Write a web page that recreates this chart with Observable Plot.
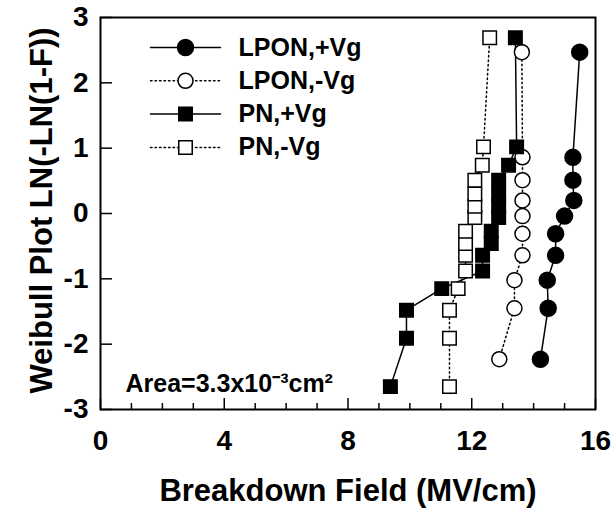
<!DOCTYPE html>
<html><head><meta charset="utf-8">
<script src="https://cdn.jsdelivr.net/npm/d3@7"></script>
<script src="https://cdn.jsdelivr.net/npm/@observablehq/plot@0.6"></script>
<style>body{margin:0;background:#fff} #chart{width:614px;height:513px}</style>
</head><body><div id="chart"></div>
<script>
// ---- data ----
const seriesNames = ["LPON,+Vg", "LPON,-Vg", "PN,+Vg", "PN,-Vg"];
const lponY    = [-2.23, -1.45, -1.02, -0.64, -0.31, -0.04, 0.20, 0.51, 0.86, 2.47];
const lponPosX = [14.22, 14.47, 14.44, 14.71, 14.71, 15.00, 15.30, 15.27, 15.27, 15.49];
const lponNegX = [12.89, 13.38, 13.38, 13.64, 13.64, 13.64, 13.64, 13.64, 13.64, 13.62];
const pnY      = [-2.65, -1.91, -1.48, -1.15, -0.88, -0.64, -0.46, -0.27, -0.06, 0.11, 0.30, 0.51, 0.74, 1.02, 2.69];
const pnPosX   = [9.37, 9.89, 9.89, 11.03, 12.35, 12.35, 12.63, 12.63, 12.87, 12.87, 12.87, 12.87, 13.19, 13.45, 13.41];
const pnNegX   = [11.28, 11.28, 11.28, 11.56, 11.80, 11.80, 11.80, 11.80, 12.10, 12.10, 12.10, 12.10, 12.34, 12.38, 12.58];
const xTicks = [0, 4, 8, 12, 16];
const xMinorTicks = [1, 2, 3, 5, 6, 7, 9, 10, 11, 13, 14, 15];
const yTicks = [-3, -2, -1, 0, 1, 2, 3];
const xLabel = "Breakdown Field (MV/cm)";
const yLabel = "Weibull Plot LN(-LN(1-F))";
const areaNote = "Area=3.3x10⁻³cm²";

// ---- layout / styles ----
const W = 614, H = 513, mL = 100, mR = 19, mT = 17, mB = 104;
const plotW = W - mL - mR, plotH = H - mT - mB;
const styles = [
  {symbol: "circle", fill: "black", dash: null, r: 8},
  {symbol: "circle", fill: "white", dash: "1.5,3", r: 7.5},
  {symbol: "square", fill: "black", dash: null, r: 7.6},
  {symbol: "square", fill: "white", dash: "1.5,3", r: 7.6}
];
const series = [
  {name: seriesNames[0], xs: lponPosX, ys: lponY},
  {name: seriesNames[1], xs: lponNegX, ys: lponY},
  {name: seriesNames[2], xs: pnPosX, ys: pnY},
  {name: seriesNames[3], xs: pnNegX, ys: pnY}
];

const lineShape = {draw(context, l) { context.moveTo(0, 0); context.lineTo(0, -l); }};
const fmt = d => String(d);

const marks = [
  Plot.tickX(xTicks, {x: d => d, insetTop: plotH - 11, strokeWidth: 1.5}),
  Plot.tickX(xMinorTicks, {x: d => d, insetTop: plotH - 6, strokeWidth: 1.5}),
  Plot.tickY(yTicks, {y: d => d, insetRight: plotW - 12, strokeWidth: 1.5}),
  Plot.axisX(xTicks, {tickSize: 0, tickPadding: 21, fontSize: 28, label: null, tickFormat: fmt}),
  Plot.axisY(yTicks, {tickSize: 0, tickPadding: 12, fontSize: 28, label: null, tickFormat: fmt}),
  Plot.text([xLabel], {text: d => d, frameAnchor: "bottom", dy: 82, fontSize: 31, textAnchor: "middle", lineAnchor: "middle"}),
  Plot.text([yLabel], {text: d => d, frameAnchor: "left", dx: -58, dy: -3, rotate: -90, fontSize: 31, textAnchor: "middle", lineAnchor: "middle"}),
  Plot.text([areaNote], {text: d => d, frameAnchor: "bottom-left", dx: 25, dy: -26, textAnchor: "start", lineAnchor: "middle", fontSize: 25})
];

series.forEach((s, k) => {
  const st = styles[k];
  const pts = s.xs.map((x, i) => ({x, y: s.ys[i]}));
  marks.push(Plot.line(pts, {x: "x", y: "y", stroke: "black", strokeWidth: 1.5, strokeDasharray: st.dash}));
});
series.forEach((s, k) => {
  const st = styles[k];
  const pts = s.xs.map((x, i) => ({x, y: s.ys[i]}));
  marks.push(Plot.dot(pts, {x: "x", y: "y", symbol: st.symbol, r: st.r, fill: st.fill, stroke: "black", strokeWidth: 1.5}));
});

// legend inside the frame
series.forEach((s, k) => {
  const st = styles[k];
  const rowY = 30 + k * 33.3;
  marks.push(Plot.vector([s.name], {frameAnchor: "top-left", dx: 50, dy: rowY, length: 70, rotate: 90, anchor: "start",
    shape: lineShape, stroke: "black", strokeWidth: 1.5, strokeDasharray: st.dash}));
  marks.push(Plot.dot([s.name], {frameAnchor: "top-left", dx: 85, dy: rowY, symbol: st.symbol, r: st.r, fill: st.fill, stroke: "black", strokeWidth: 1.5}));
  marks.push(Plot.text([s.name], {text: d => d, frameAnchor: "top-left", dx: 138, dy: rowY, textAnchor: "start", lineAnchor: "middle", fontSize: 25}));
});

marks.push(Plot.frame({stroke: "black", strokeWidth: 2}));

const chart = Plot.plot({
  width: W, height: H,
  marginLeft: mL, marginRight: mR, marginTop: mT, marginBottom: mB,
  x: {domain: [0, 16]},
  y: {domain: [-3, 3]},
  style: {fontFamily: "'Liberation Sans', Arial, sans-serif", fontWeight: "bold", color: "black", background: "white"},
  marks
});
document.getElementById("chart").appendChild(chart);
</script>
</body></html>
